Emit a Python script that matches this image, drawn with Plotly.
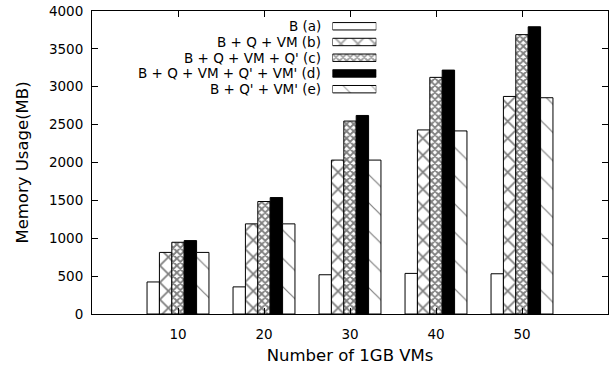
import plotly.graph_objects as go

# ---- data ----
categories = ["10", "20", "30", "40", "50"]
series_names = ["B (a)", "B + Q + VM (b)", "B + Q + VM + Q' (c)",
                "B + Q + VM + Q' + VM' (d)", "B + Q' + VM' (e)"]
vals_a = [423, 358, 518, 536, 531]
vals_b = [813, 1190, 2032, 2430, 2872]
vals_c = [947, 1485, 2547, 3124, 3688]
vals_d = [969, 1537, 2621, 3220, 3792]
vals_e = [813, 1190, 2032, 2417, 2855]
series_values = [vals_a, vals_b, vals_c, vals_d, vals_e]
y_ticks = [0, 500, 1000, 1500, 2000, 2500, 3000, 3500, 4000]

# ---- styles ----
fill_colors = ["white", "white", "white", "black", "white"]
pat_shapes = ["", "x", "x", "", "\\"]
pat_sizes = [8, 12, 5, 8, 20]
pat_solid = [0.2, 0.27, 0.6, 0.2, 0.06]

FONT = "DejaVu Sans"
fig = go.Figure()

for name, vals, col, shp, sz, sol in zip(series_names, series_values, fill_colors,
                                          pat_shapes, pat_sizes, pat_solid):
    fig.add_trace(go.Bar(
        x=categories, y=vals, name=name, showlegend=False,
        marker=dict(color=col, line=dict(color="black", width=1),
                    pattern=dict(shape=shp, size=sz, solidity=sol,
                                 fgcolor="black", bgcolor=col if shp == "" else "white")),
    ))

# ---- custom legend (text right, sample box on the right) ----
rows = list(range(len(series_names)))
fig.add_trace(go.Bar(
    orientation="h", x=[1] * len(rows), y=rows, base=0, width=0.47,
    xaxis="x2", yaxis="y2", showlegend=False, hoverinfo="skip",
    marker=dict(color=fill_colors, line=dict(color="black", width=1),
                pattern=dict(shape=pat_shapes, size=pat_sizes, solidity=pat_solid,
                             fgcolor="black", bgcolor=fill_colors)),
))
for i, name in zip(rows, series_names):
    fig.add_annotation(text=name, x=0.447, xref="paper", xanchor="right",
                       y=i, yref="y2", yanchor="middle", showarrow=False,
                       font=dict(family=FONT, size=13.5, color="black"))

axis_common = dict(showline=True, linecolor="black", linewidth=1, mirror="ticks",
                   ticks="inside", ticklen=6, tickcolor="black", tickwidth=1,
                   showgrid=False, zeroline=False, ticklabeloverflow="allow",
                   tickfont=dict(family=FONT, size=13.5, color="black"))

fig.update_layout(
    width=612, height=370,
    margin=dict(l=92, r=3, t=6, b=56),
    paper_bgcolor="white", plot_bgcolor="white",
    barmode="group", bargap=0.28, bargroupgap=0,
    font=dict(family=FONT, color="black"),
    xaxis=dict(axis_common, type="category", range=[-1, 5],
               ticklabelstandoff=8,
               title=dict(text="Number of 1GB VMs", standoff=8,
                          font=dict(family=FONT, size=16.5, color="black"))),
    yaxis=dict(axis_common, range=[0, 4000], tickvals=y_ticks,
               ticklabelstandoff=5,
               title=dict(text="Memory Usage(MB)", standoff=16,
                          font=dict(family=FONT, size=16.5, color="black"))),
    xaxis2=dict(domain=[0.466, 0.551], range=[0, 1], anchor="y2", visible=False),
    yaxis2=dict(domain=[0.716, 0.9756], range=[4.5, -0.5], anchor="x2", visible=False),
)

fig.write_html("out.html")
